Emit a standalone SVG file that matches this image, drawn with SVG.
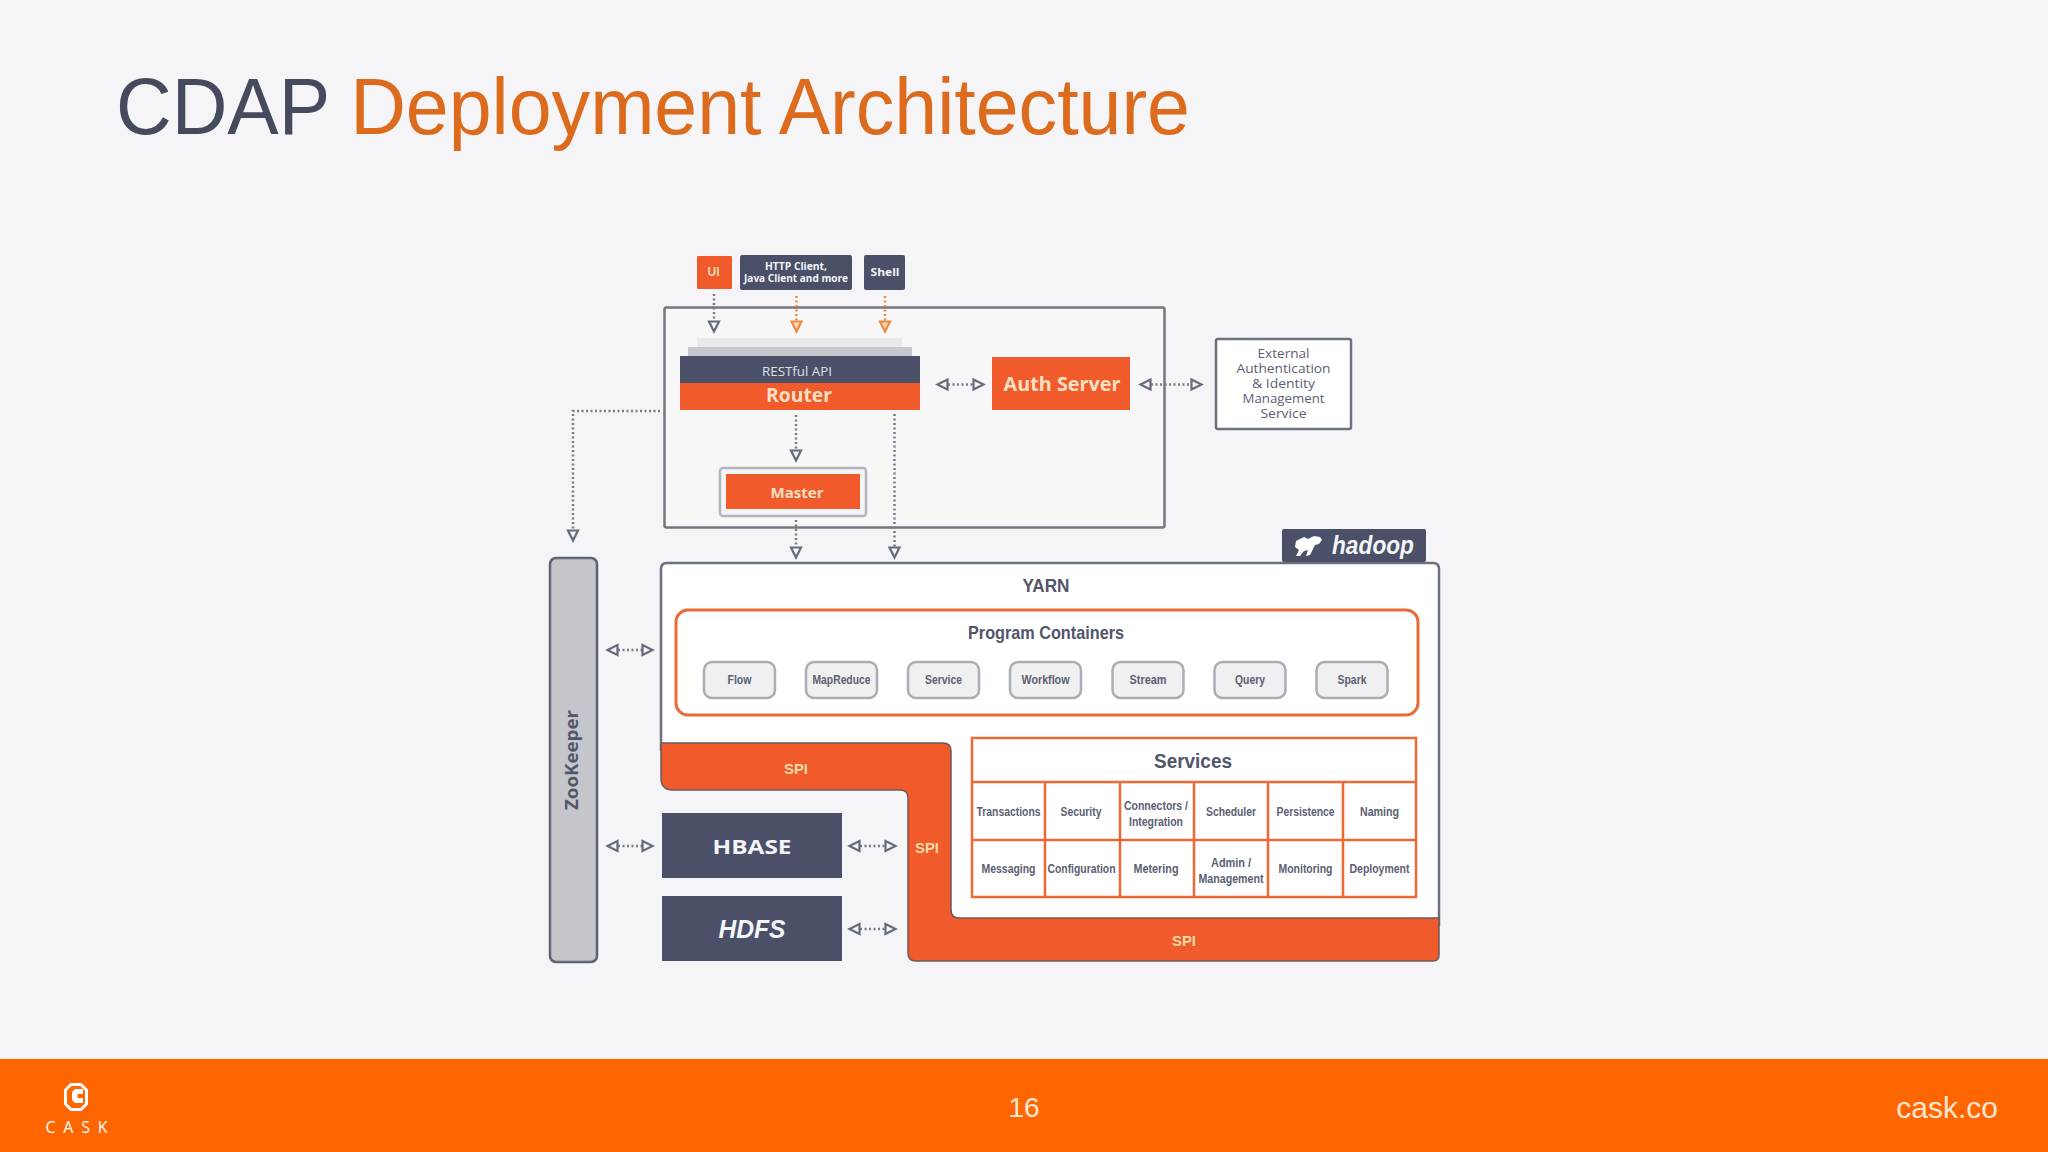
<svg xmlns="http://www.w3.org/2000/svg" width="2048" height="1152" viewBox="0 0 2048 1152">
<style>
text{font-family:"Liberation Sans",Arial,sans-serif;text-anchor:middle;dominant-baseline:central}
.w{fill:#f4f5f8}.s{fill:#515669}.b{font-weight:700}
.o{font-family:"Open Sans","DejaVu Sans",sans-serif}
.c{font-size:12px;font-weight:700;fill:#5b6072}
.pill{fill:#eff0f1;stroke:#a9adb6;stroke-width:2.5}
.dash{fill:none;stroke:#777b89;stroke-width:2.5;stroke-dasharray:2 2.5}
.dashO{fill:none;stroke:#ee8a3e;stroke-width:2.5;stroke-dasharray:2 2.5}
.dbl{marker-start:url(#ag);marker-end:url(#ag)}
.one{marker-end:url(#ag)}
.oneO{marker-end:url(#ao)}
.grid{fill:none;stroke:#ec6a35;stroke-width:2.5}
</style>
<defs>
<marker id="ag" markerUnits="userSpaceOnUse" markerWidth="14" markerHeight="14" viewBox="0 0 14 14" refX="1" refY="7" orient="auto-start-reverse"><path d="M1.5 2 L11.5 7 L1.5 12 Z" fill="#f4f5f7" stroke="#666b7a" stroke-width="2.200"/></marker>
<marker id="ao" markerUnits="userSpaceOnUse" markerWidth="14" markerHeight="14" viewBox="0 0 14 14" refX="1" refY="7" orient="auto"><path d="M1.500 2 L11.500 7 L1.500 12 Z" fill="#f7d9bf" stroke="#ee8a3e" stroke-width="2.200"/></marker>
</defs>
<rect width="2048" height="1152" fill="#f5f5f7"/>
<g id="title"><text x="116" y="106" font-size="80" style="text-anchor:start" textLength="1074" lengthAdjust="spacingAndGlyphs"><tspan fill="#454a5c">CDAP </tspan><tspan fill="#dd6b1e">Deployment Architecture</tspan></text></g>

<g id="cdap-box"><rect x="664.500" y="307.500" width="500" height="220" fill="#f7f7f8" stroke="#73777f" stroke-width="2.500" rx="2"/></g>

<g id="yarn">
<path d="M661 750 V569 q0 -6 6 -6 H1433 q6 0 6 6 V925 H940 V750 Z" fill="#fff" stroke="#6c7180" stroke-width="2.500"/>
<text x="1046" y="585" font-size="19" class="s b" textLength="47" lengthAdjust="spacingAndGlyphs">YARN</text>
</g>

<g id="hadoop"><rect x="1282" y="529" width="144" height="33" fill="#4b5068" rx="2"/>
<path d="M1296 541 l8 -4 l4 2 l6 -3 l6 1 l2 3 l-3 4 l-4 1 l-2 4 l-3 6 l-4 1 l2 -6 l-4 1 l-4 5 l-4 0 l3 -6 l-4 -3 z" fill="#fff"/>
<text x="1373" y="545" font-size="25" class="w b" style="font-style:italic" textLength="82" lengthAdjust="spacingAndGlyphs">hadoop</text></g>

<g id="spi">
<path d="M661 743 H943 q8 0 8 8 V910 q0 8 8 8 H1439 V955 q0 6 -6 6 H916 q-8 0 -8 -8 V798 q0 -8 -8 -8 H673 q-12 0 -12 -12 Z" fill="#f15a2b" stroke="#6c5a5a" stroke-width="1.500"/>
<text x="796" y="769" font-size="14" class="b" fill="#fbd9a8" textLength="24" lengthAdjust="spacingAndGlyphs">SPI</text>
<text x="927" y="848" font-size="14" class="b" fill="#fbd9a8" textLength="24" lengthAdjust="spacingAndGlyphs">SPI</text>
<text x="1184" y="941" font-size="14" class="b" fill="#fbd9a8" textLength="24" lengthAdjust="spacingAndGlyphs">SPI</text>
</g>

<g id="program-containers">
<rect x="676" y="610" width="742" height="105" rx="12" fill="#fff" stroke="#ec6a35" stroke-width="3"/>
<text x="1046" y="632.500" font-size="19" class="s b" textLength="156" lengthAdjust="spacingAndGlyphs">Program Containers</text>
</g>
<g id="flow"><rect class="pill" x="704" y="662" width="71" height="36" rx="8"/><text x="739.500" y="680" class="c" textLength="24" lengthAdjust="spacingAndGlyphs">Flow</text></g>
<g id="mapreduce"><rect class="pill" x="806" y="662" width="71" height="36" rx="8"/><text x="841.500" y="680" class="c" textLength="58" lengthAdjust="spacingAndGlyphs">MapReduce</text></g>
<g id="service"><rect class="pill" x="908" y="662" width="71" height="36" rx="8"/><text x="943.500" y="680" class="c" textLength="37" lengthAdjust="spacingAndGlyphs">Service</text></g>
<g id="workflow"><rect class="pill" x="1010" y="662" width="71" height="36" rx="8"/><text x="1045.500" y="680" class="c" textLength="48" lengthAdjust="spacingAndGlyphs">Workflow</text></g>
<g id="stream"><rect class="pill" x="1112.500" y="662" width="71" height="36" rx="8"/><text x="1148" y="680" class="c" textLength="37" lengthAdjust="spacingAndGlyphs">Stream</text></g>
<g id="query"><rect class="pill" x="1214.500" y="662" width="71" height="36" rx="8"/><text x="1250" y="680" class="c" textLength="30" lengthAdjust="spacingAndGlyphs">Query</text></g>
<g id="spark"><rect class="pill" x="1316.500" y="662" width="71" height="36" rx="8"/><text x="1352" y="680" class="c" textLength="29" lengthAdjust="spacingAndGlyphs">Spark</text></g>

<g id="services">
<rect class="grid" x="972" y="738" width="444" height="159" style="fill:#fff"/>
<path class="grid" d="M972 782 H1416 M972 840 H1416 M1045 782 V897 M1120 782 V897 M1194 782 V897 M1268 782 V897 M1343 782 V897"/>
<text x="1193" y="760.500" font-size="20" class="s b" textLength="78" lengthAdjust="spacingAndGlyphs">Services</text>
<text x="1008.500" y="812" class="c" textLength="64" lengthAdjust="spacingAndGlyphs">Transactions</text>
<text x="1081" y="812" class="c" textLength="41" lengthAdjust="spacingAndGlyphs">Security</text>
<text x="1156" y="805.500" class="c" textLength="64" lengthAdjust="spacingAndGlyphs">Connectors /</text>
<text x="1156" y="821.500" class="c" textLength="54" lengthAdjust="spacingAndGlyphs">Integration</text>
<text x="1231" y="812" class="c" textLength="50" lengthAdjust="spacingAndGlyphs">Scheduler</text>
<text x="1305.500" y="812" class="c" textLength="58" lengthAdjust="spacingAndGlyphs">Persistence</text>
<text x="1379.500" y="812" class="c" textLength="39" lengthAdjust="spacingAndGlyphs">Naming</text>
<text x="1008.500" y="869" class="c" textLength="54" lengthAdjust="spacingAndGlyphs">Messaging</text>
<text x="1081.500" y="869" class="c" textLength="68" lengthAdjust="spacingAndGlyphs">Configuration</text>
<text x="1156" y="869" class="c" textLength="45" lengthAdjust="spacingAndGlyphs">Metering</text>
<text x="1231" y="863" class="c" textLength="40" lengthAdjust="spacingAndGlyphs">Admin /</text>
<text x="1231" y="878.500" class="c" textLength="65" lengthAdjust="spacingAndGlyphs">Management</text>
<text x="1305.500" y="869" class="c" textLength="54" lengthAdjust="spacingAndGlyphs">Monitoring</text>
<text x="1379.500" y="869" class="c" textLength="60" lengthAdjust="spacingAndGlyphs">Deployment</text>
</g>

<g id="ui"><rect x="697" y="256" width="35" height="33" fill="#f15a2b" rx="1"/><text x="713.500" y="271.500" font-size="12" class="b" fill="#fcd8b8">UI</text></g>
<g id="http-client"><rect x="740" y="255" width="112" height="35" fill="#4b5068" rx="2"/>
<text x="796" y="265.500" font-size="10" class="w b o" textLength="62" lengthAdjust="spacingAndGlyphs">HTTP Client,</text>
<text x="796" y="277.500" font-size="10" class="w b o" textLength="104" lengthAdjust="spacingAndGlyphs">Java Client and more</text></g>
<g id="shell"><rect x="864" y="255" width="41" height="35" fill="#4b5068" rx="2"/><text x="885" y="271" font-size="11" class="w b o" textLength="29" lengthAdjust="spacingAndGlyphs">Shell</text></g>

<g id="router">
<rect x="697" y="338" width="205" height="10" fill="#e8e9eb"/>
<rect x="688" y="347" width="224" height="10" fill="#c6c8cd"/>
<rect x="680" y="356" width="240" height="28" fill="#4b5068"/>
<rect x="680" y="383" width="240" height="27" fill="#f15a2b"/>
<text x="797" y="371" font-size="12" class="o" fill="#dfe1e6" textLength="70" lengthAdjust="spacingAndGlyphs">RESTful API</text>
<text x="799" y="394.500" font-size="19" class="b o" fill="#fbe0c4" textLength="66" lengthAdjust="spacingAndGlyphs">Router</text>
</g>
<g id="auth-server"><rect x="992" y="357" width="138" height="53" fill="#f15a2b"/><text x="1062" y="383.500" font-size="20" class="b o" fill="#fbe0c4" textLength="117" lengthAdjust="spacingAndGlyphs">Auth Server</text></g>
<g id="external-auth"><rect x="1216" y="339" width="135" height="90" rx="2" fill="#fff" stroke="#6c7180" stroke-width="2.500"/>
<text x="1283.500" y="353" font-size="13" class="o" fill="#5b6072" textLength="52" lengthAdjust="spacingAndGlyphs">External</text>
<text x="1283.500" y="368" font-size="13" class="o" fill="#5b6072" textLength="94" lengthAdjust="spacingAndGlyphs">Authentication</text>
<text x="1283.500" y="383" font-size="13" class="o" fill="#5b6072" textLength="63" lengthAdjust="spacingAndGlyphs">&amp; Identity</text>
<text x="1283.500" y="398" font-size="13" class="o" fill="#5b6072" textLength="82" lengthAdjust="spacingAndGlyphs">Management</text>
<text x="1283.500" y="413" font-size="13" class="o" fill="#5b6072" textLength="46" lengthAdjust="spacingAndGlyphs">Service</text></g>
<g id="master"><rect x="720" y="468" width="146" height="48" rx="3" fill="#f4f5f7" stroke="#b3b6bd" stroke-width="2.500"/><rect x="726" y="474" width="134" height="35" fill="#f15a2b"/><text x="797" y="492" font-size="15" class="b o" fill="#fbe0c4" textLength="53" lengthAdjust="spacingAndGlyphs">Master</text></g>

<g id="zookeeper"><rect x="550" y="558" width="47" height="404" rx="6" fill="#c4c6cc" stroke="#5f6473" stroke-width="2.500"/><text transform="translate(571 760) rotate(-90)" font-size="17" class="s b o" textLength="100" lengthAdjust="spacingAndGlyphs">ZooKeeper</text></g>
<g id="hbase"><rect x="662" y="813" width="180" height="65" fill="#4b5068"/><text x="752" y="846" font-size="20" class="w b o" textLength="79" lengthAdjust="spacingAndGlyphs">HBASE</text></g>
<g id="hdfs"><rect x="662" y="896" width="180" height="65" fill="#4b5068"/><text x="752" y="929" font-size="26" class="w b" style="font-style:italic" textLength="67" lengthAdjust="spacingAndGlyphs">HDFS</text></g>

<g id="connectors">
<path class="dash one" d="M714 294 V321"/>
<path class="dashO oneO" d="M796.500 296 V321"/>
<path class="dashO oneO" d="M885 296 V321"/>
<path class="dash one" d="M796 415 V450"/>
<path class="dash one" d="M894.500 414 V547"/>
<path class="dash one" d="M796 520 V547"/>
<path class="dash one" d="M660 411 H573 V530"/>
<path class="dash dbl" d="M948 384.500 H973"/>
<path class="dash dbl" d="M1151 384.500 H1191"/>
<path class="dash dbl" d="M618 650 H642"/>
<path class="dash dbl" d="M618 846 H642"/>
<path class="dash dbl" d="M860 846 H885"/>
<path class="dash dbl" d="M860 929 H885"/>
</g>

<g id="footer">
<rect y="1059" width="2048" height="93" fill="#ff6600"/>
<text x="1024" y="1107" font-size="28" fill="#fde7d4">16</text>
<text x="1998" y="1107" font-size="30" fill="#fde7d4" style="text-anchor:end">cask.co</text>
<path d="M71 1084.500 H81 L86.500 1090 V1104 L81 1109.500 H71 L65.500 1104 V1090 Z" fill="#ff6600" stroke="#fff" stroke-width="3" stroke-linejoin="round"/>
<path d="M83 1089 H75 L72 1092 V1100 L75 1103 H83 V1098 H77.500 V1094 H83 Z" fill="#fff"/>
<text x="76.500" y="1127" font-size="16" class="o" fill="#fff" textLength="62">CASK</text>
</g>
</svg>
